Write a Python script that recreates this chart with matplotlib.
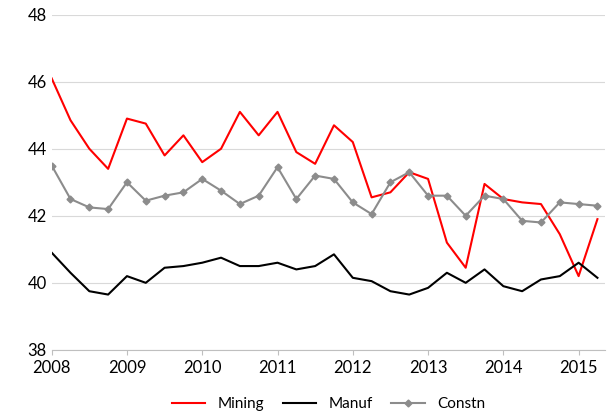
import matplotlib
matplotlib.use("Agg")
import matplotlib.pyplot as plt

plt.rcParams['font.family'] = ['Lato', 'DejaVu Sans']

# quarterly, 2008Q1 .. 2015Q2
quarters = [2008 + i * 0.25 for i in range(30)]
mining = [46.1, 44.85, 44.0, 43.4, 44.9, 44.75, 43.8, 44.4, 43.6, 44.0,
          45.1, 44.4, 45.1, 43.9, 43.55, 44.7, 44.2, 42.55, 42.7, 43.3,
          43.1, 41.2, 40.45, 42.95, 42.5, 42.4, 42.35, 41.45, 40.2, 41.9]
manuf = [40.9, 40.3, 39.75, 39.65, 40.2, 40.0, 40.45, 40.5, 40.6, 40.75,
         40.5, 40.5, 40.6, 40.4, 40.5, 40.85, 40.15, 40.05, 39.75, 39.65,
         39.85, 40.3, 40.0, 40.4, 39.9, 39.75, 40.1, 40.2, 40.6, 40.15]
constn = [43.5, 42.5, 42.25, 42.2, 43.0, 42.45, 42.6, 42.7, 43.1, 42.75,
          42.35, 42.6, 43.45, 42.5, 43.2, 43.1, 42.4, 42.05, 43.0, 43.3,
          42.6, 42.6, 42.0, 42.6, 42.5, 41.85, 41.8, 42.4, 42.35, 42.3]
years = list(range(2008, 2016))

fig, ax = plt.subplots(figsize=(6.08, 4.19), dpi=100)
fig.subplots_adjust(left=0.085, right=0.995, top=0.965, bottom=0.165)

ax.plot(quarters, mining, color='#ff0000', lw=1.5, label='Mining')
ax.plot(quarters, manuf, color='#000000', lw=1.5, label='Manuf')
ax.plot(quarters, constn, color='#8c8c8c', lw=1.5, marker='D', ms=3.5, label='Constn')

ax.set_ylim(38, 48)
ax.set_yticks(range(38, 49, 2))
ax.set_xlim(2008, 2015.35)
ax.set_xticks(years)
ax.set_xticklabels([str(y) for y in years])
ax.grid(axis='y', color='#d9d9d9', lw=0.8)
ax.set_axisbelow(True)
for s in ['left', 'right', 'top']:
    ax.spines[s].set_visible(False)
ax.spines['bottom'].set_color('#bfbfbf')
ax.tick_params(axis='y', length=0, labelsize=12)
ax.tick_params(axis='x', color='#bfbfbf', labelsize=12)

ax.legend(loc='upper center', bbox_to_anchor=(0.5, -0.1), ncol=3, frameon=False,
          fontsize=11, handlelength=2.2, columnspacing=1.2)

fig.savefig('out.png')
